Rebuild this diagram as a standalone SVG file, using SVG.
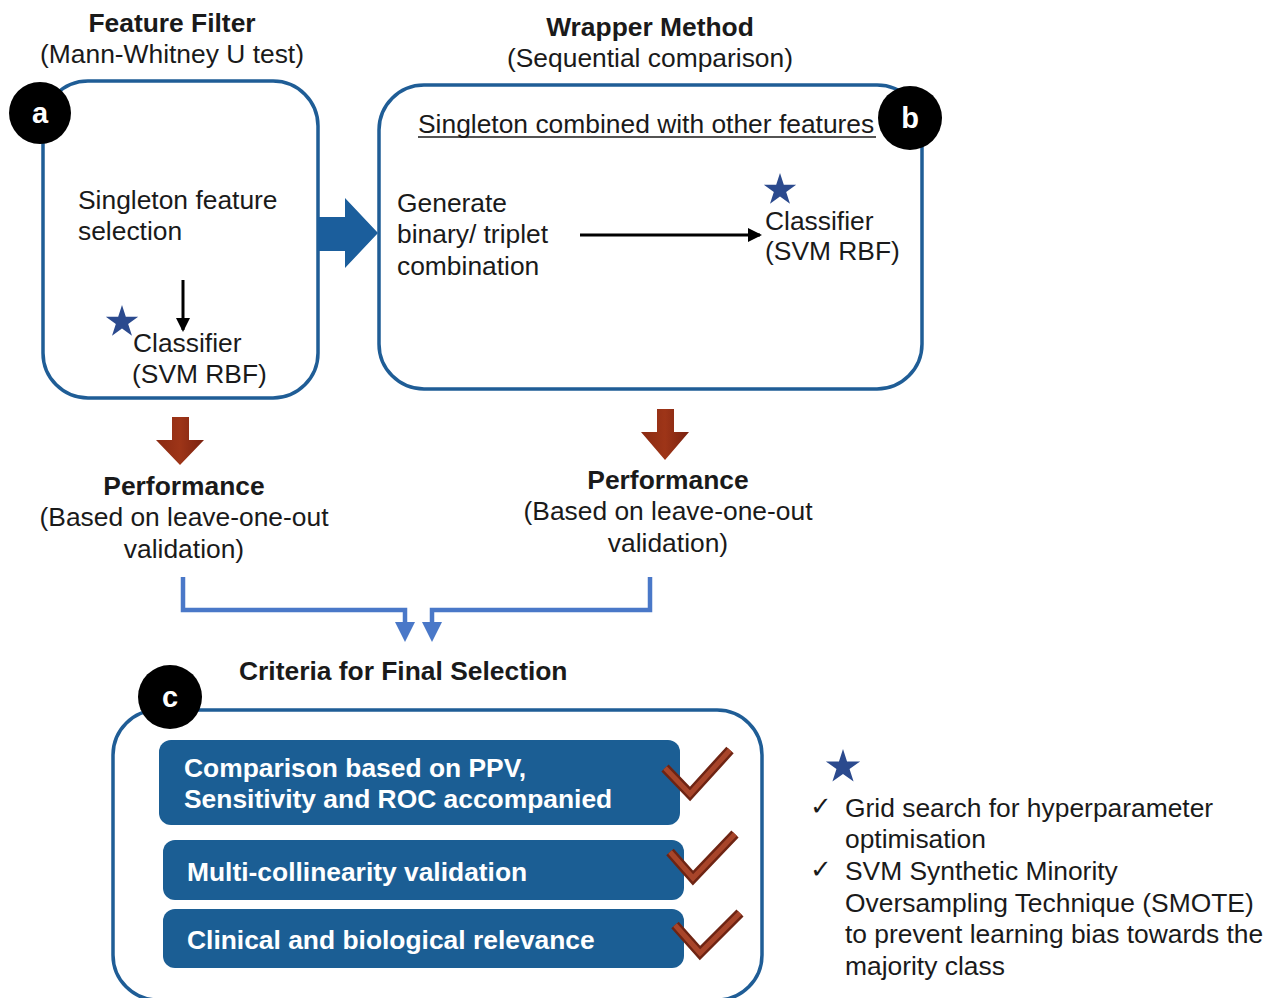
<svg xmlns="http://www.w3.org/2000/svg" width="1279" height="998" viewBox="0 0 1279 998">
<style>
text{font-family:"Liberation Sans",Arial,sans-serif;fill:#1a1a1a}
.t{font-size:26.4px}
.b{font-size:26.4px;font-weight:bold}
.w{font-size:26.4px;font-weight:bold;fill:#ffffff}
.lbl{font-size:29px;font-weight:bold;fill:#ffffff}
.box{fill:#ffffff;stroke:#1f5d96;stroke-width:3.5}
.inner{fill:#1b5e94}
.badge{fill:#000000}
.conn{fill:none;stroke:#4a78c8;stroke-width:4.5}
.head{fill:#4a78c8}
.red{fill:url(#rg)}
.star{fill:#2b4a8e}
.chk1{fill:none;stroke:#6e2413;stroke-width:10;stroke-linecap:butt;stroke-linejoin:miter}
.chk2{fill:none;stroke:#a8452a;stroke-width:5;stroke-linejoin:miter}
</style>
<defs>
<linearGradient id="rg" x1="0" y1="0" x2="1" y2="0">
<stop offset="0" stop-color="#8a2a12"/>
<stop offset="0.5" stop-color="#9e3518"/>
<stop offset="1" stop-color="#7a2210"/>
</linearGradient>
<polygon id="starShape" points="0,-1 0.2245,-0.309 0.951,-0.309 0.363,0.118 0.588,0.809 0,0.382 -0.588,0.809 -0.363,0.118 -0.951,-0.309 -0.2245,-0.309"/>
<marker id="blk" markerUnits="userSpaceOnUse" markerWidth="14" markerHeight="14" refX="12" refY="7" orient="auto" viewBox="0 0 14 14">
<path d="M0,0 L14,7 L0,14 Z" fill="#000"/>
</marker>
</defs>

<g id="title-a">
<text class="b" x="172" y="32" text-anchor="middle">Feature Filter</text>
<text class="t" x="172" y="63" text-anchor="middle">(Mann-Whitney U test)</text>
</g>
<g id="title-b">
<text class="b" x="650" y="36" text-anchor="middle">Wrapper Method</text>
<text class="t" x="650" y="67" text-anchor="middle">(Sequential comparison)</text>
</g>

<g id="node-a">
<rect class="box" x="43" y="81" width="275" height="317" rx="45"/>
<text class="t" x="78" y="209">Singleton feature</text>
<text class="t" x="78" y="240">selection</text>
<line x1="183" y1="280" x2="183" y2="330" stroke="#000" stroke-width="3" marker-end="url(#blk)"/>
<use href="#starShape" class="star" transform="translate(122 322) scale(17)"/>
<text class="t" x="133" y="352">Classifier</text>
<text class="t" x="132" y="383">(SVM RBF)</text>
<circle class="badge" cx="40" cy="113" r="31"/>
<text class="lbl" x="40" y="123" text-anchor="middle">a</text>
</g>

<g id="node-b">
<rect class="box" x="379" y="85" width="543" height="304" rx="45"/>
<text class="t" x="418" y="133">Singleton combined with other features</text>
<line x1="418" y1="137" x2="876" y2="137" stroke="#1a1a1a" stroke-width="1.6"/>
<text class="t" x="397" y="212">Generate</text>
<text class="t" x="397" y="243">binary/ triplet</text>
<text class="t" x="397" y="275">combination</text>
<line x1="580" y1="235" x2="760" y2="235" stroke="#000" stroke-width="3" marker-end="url(#blk)"/>
<use href="#starShape" class="star" transform="translate(780 190) scale(17)"/>
<text class="t" x="765" y="230">Classifier</text>
<text class="t" x="765" y="260">(SVM RBF)</text>
<circle class="badge" cx="910" cy="118" r="32"/>
<text class="lbl" x="910" y="128" text-anchor="middle">b</text>
</g>

<g id="perf-a">
<text class="b" x="184" y="495" text-anchor="middle">Performance</text>
<text class="t" x="184" y="526" text-anchor="middle">(Based on leave-one-out</text>
<text class="t" x="184" y="558" text-anchor="middle">validation)</text>
</g>
<g id="perf-b">
<text class="b" x="668" y="489" text-anchor="middle">Performance</text>
<text class="t" x="668" y="520" text-anchor="middle">(Based on leave-one-out</text>
<text class="t" x="668" y="552" text-anchor="middle">validation)</text>
</g>

<g id="criteria-title">
<text class="b" x="239" y="680">Criteria for Final Selection</text>
</g>

<g id="node-c">
<rect class="box" x="113" y="710" width="649" height="290" rx="45"/>
<rect class="inner" x="159" y="740" width="521" height="85" rx="12"/>
<text class="w" x="184" y="777">Comparison based on PPV,</text>
<text class="w" x="184" y="808">Sensitivity and ROC accompanied</text>
<rect class="inner" x="163" y="840" width="521" height="60" rx="12"/>
<text class="w" x="187" y="881">Multi-collinearity validation</text>
<rect class="inner" x="163" y="909" width="521" height="59" rx="12"/>
<text class="w" x="187" y="949">Clinical and biological relevance</text>
<polyline class="chk1" points="665,768 690,794 730,750"/>
<polyline class="chk2" points="665,768 690,794 730,750"/>
<polyline class="chk1" points="670,852 693,878 735,834"/>
<polyline class="chk2" points="670,852 693,878 735,834"/>
<polyline class="chk1" points="675,925 700,953 740,913"/>
<polyline class="chk2" points="675,925 700,953 740,913"/>
<circle class="badge" cx="170" cy="697" r="32"/>
<text class="lbl" x="170" y="707" text-anchor="middle">c</text>
</g>

<g id="legend">
<use href="#starShape" class="star" transform="translate(843 767) scale(18)"/>
<text class="t" x="810" y="815">✓</text>
<text class="t" x="845" y="817">Grid search for hyperparameter</text>
<text class="t" x="845" y="848">optimisation</text>
<text class="t" x="810" y="878">✓</text>
<text class="t" x="845" y="880">SVM Synthetic Minority</text>
<text class="t" x="845" y="912">Oversampling Technique (SMOTE)</text>
<text class="t" x="845" y="943">to prevent learning bias towards the</text>
<text class="t" x="845" y="975">majority class</text>
</g>

<g id="connectors">
<polygon fill="#1b5e9c" points="318,217 345,217 345,198 378,233 345,268 345,251 318,251"/>
<polygon class="red" points="172,417 189,417 189,440 204,440 180,465 156,440 172,440"/>
<polygon class="red" points="657,409 674,409 674,432 689,432 665,460 641,432 657,432"/>
<path class="conn" d="M183,577 V610 H405 V624"/>
<polygon class="head" points="395,622 415,622 405,642"/>
<path class="conn" d="M650,577 V610 H432 V624"/>
<polygon class="head" points="422,622 442,622 432,642"/>
</g>
</svg>
